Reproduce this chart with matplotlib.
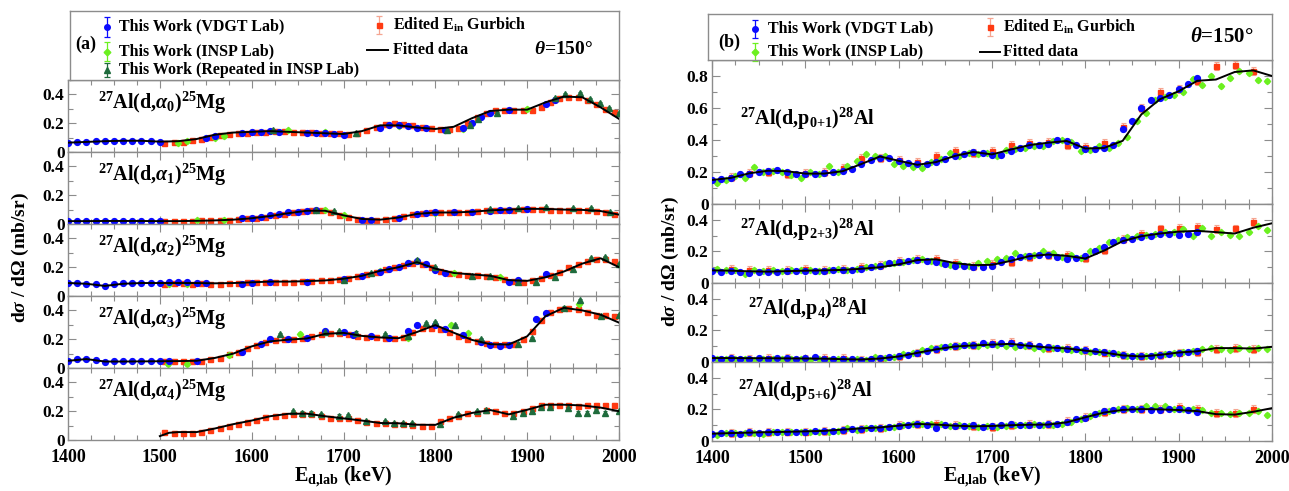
import matplotlib
matplotlib.use("Agg")
import matplotlib.pyplot as plt
from matplotlib.ticker import MultipleLocator, FuncFormatter

plt.rcParams['font.family'] = ['Liberation Serif', 'DejaVu Serif']
plt.rcParams['font.weight'] = 'bold'
plt.rcParams['mathtext.fontset'] = 'custom'
plt.rcParams['mathtext.rm'] = 'Liberation Serif:bold'
plt.rcParams['mathtext.it'] = 'Liberation Serif:italic:bold'
plt.rcParams['mathtext.bf'] = 'Liberation Serif:bold'

# ---------------- DATA ----------------
E_fit = list(range(1400, 2001, 20))
E_red_a = list(range(1505, 2000, 10))
E_blue_b = list(range(1400, 1921, 10))
E_green_b = list(range(1405, 2000, 10))
E_red_b = list(range(1420, 1991, 20))

# Panel (a) alpha0
a0_fit = [0.065, 0.07, 0.075, 0.078, 0.078, 0.072, 0.075, 0.09, 0.12, 0.135, 0.14, 0.145, 0.14, 0.135, 0.13,
          0.125, 0.145, 0.185, 0.185, 0.17, 0.16, 0.175, 0.235, 0.285, 0.294, 0.294, 0.345, 0.385, 0.38, 0.31, 0.23]
a0_blue_E = [1400, 1410, 1420, 1430, 1440, 1450, 1460, 1470, 1480, 1490, 1500, 1550, 1560, 1590, 1600, 1610, 1620,
             1630, 1660, 1670, 1680, 1690, 1700, 1740, 1750, 1760, 1770, 1780, 1790, 1810, 1830, 1840, 1850, 1860,
             1880, 1920, 1930]
a0_blue = [0.065, 0.068, 0.072, 0.075, 0.077, 0.078, 0.078, 0.077, 0.075, 0.073, 0.07, 0.1, 0.11, 0.135, 0.138,
           0.14, 0.145, 0.14, 0.135, 0.132, 0.13, 0.128, 0.12, 0.17, 0.185, 0.19, 0.18, 0.17, 0.165, 0.155, 0.17,
           0.2, 0.24, 0.27, 0.29, 0.33, 0.36]
a0_red = [0.062, 0.068, 0.072, 0.08, 0.09, 0.105, 0.12, 0.128, 0.133, 0.135, 0.14, 0.142, 0.145, 0.143, 0.14,
          0.138, 0.136, 0.134, 0.132, 0.13, 0.125, 0.13, 0.15, 0.175, 0.195, 0.2, 0.195, 0.185, 0.175, 0.17, 0.16,
          0.16, 0.165, 0.2, 0.24, 0.27, 0.29, 0.295, 0.295, 0.29, 0.29, 0.31, 0.35, 0.375, 0.385, 0.38, 0.36,
          0.33, 0.3, 0.28]
a0_green_E = [1520, 1530, 1560, 1570, 1640, 1680, 1750, 1760, 1830, 1900]
a0_green = [0.065, 0.075, 0.1, 0.11, 0.15, 0.14, 0.19, 0.18, 0.16, 0.3]
a0_tri_E = [1623, 1714, 1813, 1838, 1846, 1867, 1930, 1941, 1958, 1968, 1979, 1989, 2000]
a0_tri = [0.153, 0.13, 0.15, 0.19, 0.23, 0.27, 0.376, 0.4, 0.41, 0.365, 0.34, 0.306, 0.27]

# Panel (a) alpha1
a1_fit = [0.02, 0.02, 0.021, 0.021, 0.021, 0.02, 0.02, 0.022, 0.025, 0.03, 0.04, 0.055, 0.075, 0.092, 0.092,
          0.06, 0.035, 0.03, 0.045, 0.07, 0.08, 0.08, 0.085, 0.095, 0.1, 0.105, 0.105, 0.1, 0.098, 0.09, 0.065]
a1_blue_E = [1400, 1410, 1420, 1430, 1440, 1450, 1460, 1470, 1480, 1490, 1500, 1590, 1600, 1610, 1620, 1630,
             1640, 1650, 1660, 1670, 1720, 1730, 1760, 1780, 1790, 1800, 1820, 1840, 1860, 1870, 1880, 1900]
a1_blue = [0.02, 0.02, 0.02, 0.021, 0.022, 0.022, 0.023, 0.022, 0.022, 0.021, 0.02, 0.04, 0.045, 0.05, 0.06,
           0.07, 0.08, 0.085, 0.09, 0.095, 0.03, 0.03, 0.045, 0.07, 0.075, 0.08, 0.08, 0.085, 0.09, 0.1, 0.1, 0.105]
a1_red = [0.02, 0.02, 0.022, 0.022, 0.025, 0.025, 0.03, 0.03, 0.035, 0.04, 0.045, 0.05, 0.06, 0.07, 0.08, 0.09,
          0.095, 0.095, 0.085, 0.065, 0.05, 0.035, 0.03, 0.03, 0.035, 0.04, 0.055, 0.07, 0.075, 0.08, 0.08, 0.08,
          0.08, 0.085, 0.09, 0.095, 0.095, 0.1, 0.1, 0.105, 0.105, 0.105, 0.1, 0.1, 0.1, 0.095, 0.095, 0.09,
          0.08, 0.07]
a1_green_E = [1540, 1570, 1680, 1700, 1800, 1880]
a1_green = [0.025, 0.03, 0.1, 0.06, 0.075, 0.1]
a1_tri_E = [1670, 1690, 1860, 1890, 1920, 1950, 1970, 1990]
a1_tri = [0.1, 0.09, 0.105, 0.11, 0.115, 0.11, 0.11, 0.08]

# Panel (a) alpha2
a2_fit = [0.09, 0.085, 0.07, 0.085, 0.09, 0.09, 0.09, 0.09, 0.088, 0.09, 0.095, 0.1, 0.1, 0.103, 0.108, 0.12,
          0.14, 0.175, 0.2, 0.235, 0.19, 0.16, 0.15, 0.14, 0.11, 0.105, 0.13, 0.17, 0.225, 0.262, 0.2]
a2_blue_E = [1400, 1410, 1420, 1430, 1440, 1450, 1460, 1470, 1480, 1490, 1500, 1510, 1520, 1530, 1540, 1550,
             1590, 1600, 1620, 1660, 1700, 1720, 1740, 1750, 1760, 1770, 1780, 1790, 1800, 1810, 1880, 1890, 1920]
a2_blue = [0.09, 0.088, 0.085, 0.08, 0.07, 0.085, 0.09, 0.088, 0.09, 0.09, 0.092, 0.095, 0.1, 0.095, 0.093,
           0.09, 0.08, 0.09, 0.1, 0.1, 0.12, 0.14, 0.17, 0.19, 0.2, 0.23, 0.245, 0.22, 0.18, 0.16, 0.1, 0.11, 0.15]
a2_red = [0.085, 0.09, 0.09, 0.085, 0.09, 0.085, 0.08, 0.09, 0.09, 0.095, 0.1, 0.1, 0.1, 0.1, 0.1, 0.105, 0.105,
          0.11, 0.11, 0.115, 0.125, 0.14, 0.155, 0.17, 0.185, 0.2, 0.215, 0.23, 0.225, 0.2, 0.175, 0.16, 0.15,
          0.145, 0.145, 0.14, 0.13, 0.115, 0.105, 0.1, 0.11, 0.125, 0.145, 0.165, 0.2, 0.22, 0.245, 0.26, 0.26,
          0.24]
a2_green_E = [1510, 1530, 1660, 1740, 1770, 1820, 1870]
a2_green = [0.08, 0.085, 0.1, 0.175, 0.23, 0.16, 0.13]
a2_tri_E = [1700, 1730, 1780, 1800, 1840, 1860, 1890, 1910, 1930, 1950, 1970, 1985, 2000]
a2_tri = [0.11, 0.16, 0.25, 0.2, 0.14, 0.14, 0.095, 0.1, 0.13, 0.19, 0.265, 0.27, 0.22]

# Panel (a) alpha3
a3_fit = [0.05, 0.062, 0.045, 0.045, 0.046, 0.047, 0.048, 0.05, 0.07, 0.1, 0.15, 0.185, 0.197, 0.205, 0.237,
          0.244, 0.223, 0.212, 0.207, 0.25, 0.298, 0.245, 0.195, 0.165, 0.163, 0.22, 0.36, 0.418, 0.4, 0.37, 0.315]
a3_blue_E = [1400, 1410, 1420, 1430, 1440, 1450, 1460, 1470, 1480, 1490, 1500, 1510, 1540, 1590, 1610, 1620,
             1640, 1660, 1680, 1700, 1710, 1730, 1750, 1770, 1780, 1800, 1810, 1830, 1850, 1860, 1870, 1880,
             1910, 1920]
a3_blue = [0.05, 0.06, 0.062, 0.055, 0.045, 0.048, 0.05, 0.05, 0.048, 0.047, 0.048, 0.05, 0.05, 0.11, 0.17,
           0.2, 0.2, 0.21, 0.26, 0.25, 0.23, 0.22, 0.21, 0.26, 0.3, 0.3, 0.27, 0.23, 0.18, 0.16, 0.155, 0.16,
           0.34, 0.38]
a3_red = [0.05, 0.05, 0.05, 0.05, 0.052, 0.06, 0.07, 0.1, 0.11, 0.14, 0.16, 0.18, 0.195, 0.2, 0.2, 0.205, 0.22,
          0.235, 0.24, 0.24, 0.235, 0.22, 0.215, 0.215, 0.21, 0.205, 0.215, 0.25, 0.28, 0.28, 0.27, 0.25, 0.22,
          0.2, 0.185, 0.175, 0.165, 0.165, 0.17, 0.2, 0.26, 0.33, 0.39, 0.41, 0.42, 0.41, 0.39, 0.37, 0.37, 0.36]
a3_green_E = [1509, 1530, 1575, 1653, 1770, 1817, 1836, 1956]
a3_green = [0.028, 0.028, 0.09, 0.235, 0.21, 0.3, 0.24, 0.446]
a3_tri_E = [1631, 1680, 1695, 1714, 1745, 1770, 1790, 1800, 1821, 1850, 1890, 1905, 1940, 1958, 1980, 2000]
a3_tri = [0.234, 0.25, 0.257, 0.246, 0.234, 0.22, 0.31, 0.32, 0.296, 0.2, 0.17, 0.21, 0.42, 0.47, 0.36, 0.37]

# Panel (a) alpha4
a4_fit_E = [1500, 1510, 1520, 1540, 1560, 1580, 1600, 1620, 1640, 1660, 1680, 1700, 1720, 1740, 1760, 1780, 1800,
            1820, 1840, 1860, 1880, 1900, 1920, 1940, 1960, 1980, 2000]
a4_fit = [0.027, 0.05, 0.055, 0.055, 0.08, 0.11, 0.135, 0.165, 0.182, 0.183, 0.165, 0.15, 0.135, 0.118, 0.116,
          0.106, 0.105, 0.155, 0.188, 0.208, 0.178, 0.21, 0.245, 0.245, 0.24, 0.225, 0.2]
a4_red = [0.057, 0.05, 0.05, 0.05, 0.055, 0.07, 0.085, 0.1, 0.11, 0.125, 0.14, 0.16, 0.17, 0.175, 0.18, 0.18,
          0.18, 0.17, 0.155, 0.15, 0.15, 0.14, 0.125, 0.12, 0.115, 0.11, 0.11, 0.105, 0.1, 0.1, 0.13, 0.15, 0.17,
          0.185, 0.19, 0.205, 0.2, 0.19, 0.185, 0.2, 0.22, 0.24, 0.245, 0.245, 0.24, 0.235, 0.245, 0.245, 0.24,
          0.245]
a4_tri_E = [1645, 1655, 1665, 1675, 1695, 1705, 1725, 1745, 1755, 1765, 1775, 1805, 1825, 1845, 1855, 1885,
            1895, 1905, 1915, 1925, 1945, 1955, 1965, 1975, 1985, 2000]
a4_tri = [0.2, 0.19, 0.19, 0.18, 0.17, 0.175, 0.13, 0.13, 0.12, 0.12, 0.12, 0.11, 0.18, 0.2, 0.21, 0.17, 0.19,
          0.2, 0.23, 0.23, 0.22, 0.19, 0.19, 0.21, 0.19, 0.2]

# Panel (b) p0+1
b1_fit = [0.15, 0.163, 0.192, 0.208, 0.205, 0.19, 0.19, 0.205, 0.25, 0.297, 0.27, 0.245, 0.262, 0.3, 0.325, 0.31,
          0.34, 0.368, 0.383, 0.394, 0.347, 0.35, 0.395, 0.56, 0.655, 0.705, 0.77, 0.778, 0.825, 0.835, 0.8]
b1_blue = [0.15, 0.155, 0.165, 0.185, 0.19, 0.2, 0.205, 0.21, 0.2, 0.19, 0.19, 0.19, 0.195, 0.2, 0.205, 0.22,
           0.25, 0.275, 0.29, 0.285, 0.27, 0.255, 0.25, 0.25, 0.265, 0.28, 0.3, 0.315, 0.325, 0.32, 0.305, 0.305,
           0.33, 0.35, 0.37, 0.37, 0.375, 0.4, 0.395, 0.37, 0.345, 0.345, 0.35, 0.37, 0.47, 0.52, 0.6, 0.65,
           0.665, 0.68, 0.72, 0.75, 0.785]
b1_green = [0.13, 0.15, 0.175, 0.165, 0.23, 0.2, 0.205, 0.2, 0.18, 0.165, 0.2, 0.19, 0.235, 0.2, 0.24, 0.27,
            0.31, 0.3, 0.3, 0.25, 0.235, 0.23, 0.225, 0.26, 0.28, 0.32, 0.3, 0.32, 0.31, 0.32, 0.3, 0.34, 0.345,
            0.35, 0.36, 0.36, 0.395, 0.4, 0.385, 0.33, 0.34, 0.36, 0.35, 0.38, 0.42, 0.52, 0.57, 0.65, 0.67, 0.68,
            0.7, 0.78, 0.745, 0.8, 0.74, 0.79, 0.83, 0.82, 0.775, 0.77]
b1_red = [0.17, 0.195, 0.2, 0.19, 0.195, 0.2, 0.225, 0.29, 0.285, 0.275, 0.26, 0.3, 0.33, 0.32, 0.33, 0.37,
          0.38, 0.39, 0.37, 0.355, 0.38, 0.48, 0.6, 0.7, 0.72, 0.77, 0.86, 0.87, 0.83]

# Panel (b) p2+3
b2_fit = [0.08, 0.078, 0.074, 0.072, 0.075, 0.078, 0.08, 0.083, 0.09, 0.1, 0.118, 0.145, 0.15, 0.126, 0.113,
          0.115, 0.14, 0.17, 0.18, 0.172, 0.155, 0.205, 0.265, 0.296, 0.313, 0.325, 0.33, 0.322, 0.313, 0.35, 0.378]
b2_blue = [0.075, 0.072, 0.074, 0.07, 0.065, 0.068, 0.07, 0.072, 0.073, 0.075, 0.077, 0.076, 0.078, 0.08, 0.082,
           0.085, 0.09, 0.1, 0.11, 0.125, 0.13, 0.14, 0.145, 0.14, 0.13, 0.12, 0.11, 0.105, 0.1, 0.1, 0.11, 0.13,
           0.15, 0.165, 0.17, 0.175, 0.175, 0.165, 0.155, 0.16, 0.17, 0.2, 0.23, 0.26, 0.27, 0.28, 0.29, 0.3,
           0.31, 0.31, 0.305, 0.31, 0.32]
b2_green = [0.09, 0.085, 0.08, 0.06, 0.08, 0.075, 0.085, 0.075, 0.085, 0.08, 0.085, 0.075, 0.08, 0.09, 0.085,
            0.09, 0.1, 0.105, 0.12, 0.125, 0.135, 0.145, 0.15, 0.14, 0.125, 0.115, 0.12, 0.105, 0.125, 0.14, 0.15,
            0.16, 0.19, 0.17, 0.175, 0.2, 0.19, 0.165, 0.175, 0.16, 0.2, 0.22, 0.26, 0.275, 0.29, 0.3, 0.305,
            0.31, 0.32, 0.325, 0.34, 0.3, 0.35, 0.3, 0.32, 0.305, 0.3, 0.32, 0.36, 0.335]
b2_red = [0.09, 0.085, 0.08, 0.085, 0.09, 0.085, 0.09, 0.1, 0.115, 0.14, 0.155, 0.155, 0.125, 0.11, 0.12, 0.135,
          0.165, 0.18, 0.18, 0.16, 0.21, 0.28, 0.31, 0.345, 0.35, 0.355, 0.34, 0.345, 0.385]

# Panel (b) p4
b3_fit = [0.025, 0.025, 0.024, 0.024, 0.023, 0.022, 0.021, 0.018, 0.016, 0.022, 0.035, 0.058, 0.08, 0.098, 0.105,
          0.11, 0.115, 0.102, 0.092, 0.086, 0.072, 0.06, 0.042, 0.035, 0.045, 0.06, 0.068, 0.088, 0.088, 0.085,
          0.096]
b3_blue = [0.025, 0.022, 0.025, 0.022, 0.02, 0.025, 0.022, 0.025, 0.027, 0.022, 0.025, 0.03, 0.022, 0.02, 0.02,
           0.018, 0.015, 0.02, 0.025, 0.03, 0.035, 0.045, 0.055, 0.07, 0.08, 0.095, 0.1, 0.105, 0.105, 0.12,
           0.115, 0.12, 0.12, 0.11, 0.105, 0.1, 0.095, 0.09, 0.085, 0.08, 0.075, 0.07, 0.065, 0.055, 0.045, 0.04,
           0.035, 0.04, 0.045, 0.05, 0.055, 0.065, 0.07]
b3_green = [0.02, 0.02, 0.018, 0.02, 0.015, 0.02, 0.018, 0.02, 0.02, 0.018, 0.015, 0.018, 0.015, 0.02, 0.015,
            0.02, 0.015, 0.03, 0.025, 0.03, 0.05, 0.06, 0.075, 0.09, 0.095, 0.1, 0.1, 0.11, 0.1, 0.105, 0.11, 0.1,
            0.095, 0.1, 0.09, 0.085, 0.09, 0.085, 0.075, 0.07, 0.065, 0.065, 0.055, 0.05, 0.04, 0.035, 0.04,
            0.045, 0.05, 0.06, 0.065, 0.07, 0.08, 0.09, 0.085, 0.075, 0.09, 0.08, 0.09, 0.085]
b3_red = [0.028, 0.02, 0.025, 0.028, 0.02, 0.025, 0.025, 0.015, 0.02, 0.035, 0.06, 0.085, 0.1, 0.11, 0.12, 0.125,
          0.105, 0.09, 0.09, 0.075, 0.06, 0.045, 0.04, 0.045, 0.06, 0.065, 0.085, 0.09, 0.085]

# Panel (b) p5+6
b4_fit = [0.046, 0.05, 0.053, 0.056, 0.058, 0.061, 0.064, 0.072, 0.08, 0.086, 0.097, 0.108, 0.104, 0.097, 0.093,
          0.095, 0.1, 0.103, 0.104, 0.118, 0.15, 0.18, 0.197, 0.202, 0.2, 0.196, 0.189, 0.17, 0.167, 0.185, 0.208]
b4_blue = [0.045, 0.048, 0.05, 0.045, 0.055, 0.05, 0.055, 0.055, 0.058, 0.06, 0.06, 0.062, 0.065, 0.065, 0.07,
           0.075, 0.078, 0.08, 0.085, 0.09, 0.095, 0.1, 0.105, 0.1, 0.085, 0.1, 0.095, 0.095, 0.1, 0.09, 0.095,
           0.1, 0.105, 0.1, 0.1, 0.1, 0.105, 0.11, 0.12, 0.14, 0.145, 0.17, 0.19, 0.195, 0.2, 0.2, 0.2, 0.195,
           0.195, 0.2, 0.2, 0.195, 0.185]
b4_green = [0.04, 0.05, 0.048, 0.05, 0.05, 0.045, 0.055, 0.055, 0.06, 0.06, 0.055, 0.06, 0.06, 0.065, 0.08, 0.07,
            0.08, 0.08, 0.085, 0.09, 0.1, 0.11, 0.11, 0.11, 0.105, 0.095, 0.1, 0.095, 0.09, 0.095, 0.09, 0.095,
            0.1, 0.1, 0.105, 0.1, 0.1, 0.105, 0.12, 0.14, 0.16, 0.18, 0.19, 0.2, 0.21, 0.205, 0.22, 0.22, 0.22,
            0.205, 0.2, 0.2, 0.195, 0.18, 0.175, 0.17, 0.175, 0.18, 0.19, 0.165]
b4_red = [0.05, 0.055, 0.055, 0.06, 0.06, 0.065, 0.07, 0.075, 0.085, 0.1, 0.11, 0.11, 0.1, 0.095, 0.09, 0.1,
          0.105, 0.105, 0.125, 0.155, 0.185, 0.2, 0.2, 0.2, 0.215, 0.2, 0.175, 0.18, 0.2]

blue_err = 0.008
green_err = 0.012
tri_err = 0.008
red_err_a = 0.012
red_err_b = 0.025

labels_a = [r"$^{27}$Al(d,$\alpha_{0}$)$^{25}$Mg", r"$^{27}$Al(d,$\alpha_{1}$)$^{25}$Mg",
            r"$^{27}$Al(d,$\alpha_{2}$)$^{25}$Mg", r"$^{27}$Al(d,$\alpha_{3}$)$^{25}$Mg",
            r"$^{27}$Al(d,$\alpha_{4}$)$^{25}$Mg"]
labels_b = [r"$^{27}$Al(d,p$_{0{+}1}$)$^{28}$Al", r"$^{27}$Al(d,p$_{2{+}3}$)$^{28}$Al",
            r"$^{27}$Al(d,p$_{4}$)$^{28}$Al", r"$^{27}$Al(d,p$_{5{+}6}$)$^{28}$Al"]

# ---------------- STYLE ----------------
C_BLUE = '#0a0aff'
C_GREEN = '#6cf020'
C_TRI = '#1e6b3c'
C_RED = '#ff3a12'
C_RED_ERR = '#f5a591'
C_FRAME = '#8c8c8c'

W, H = 1289, 491
fig = plt.figure(figsize=(W / 100, H / 100), dpi=100)


def fx(px):
    return px / W


def fy(px):
    return 1 - px / H


def yfmt(v, pos):
    if abs(v) < 1e-9:
        return '0'
    return f'{v:.1f}'


def style_axes(ax, ymax, show_x):
    ax.set_xlim(1400, 2000)
    ax.set_ylim(0, ymax)
    ax.xaxis.set_major_locator(MultipleLocator(100))
    ax.xaxis.set_minor_locator(MultipleLocator(25))
    ax.yaxis.set_major_locator(MultipleLocator(0.2))
    ax.yaxis.set_minor_locator(MultipleLocator(0.1))
    ax.yaxis.set_major_formatter(FuncFormatter(yfmt))
    ax.tick_params(which='both', direction='in', top=True, right=True, color=C_FRAME, width=0.8)
    ax.tick_params(which='major', length=6)
    ax.tick_params(which='minor', length=3.5)
    ax.tick_params(axis='y', labelsize=12.5, pad=2.5)
    ax.tick_params(axis='x', labelsize=13, pad=6.5)
    for s in ax.spines.values():
        s.set_color(C_FRAME)
        s.set_linewidth(1.0)
    if not show_x:
        ax.tick_params(axis='x', labelbottom=False)
    for lab in ax.get_xticklabels() + ax.get_yticklabels():
        lab.set_fontweight('bold')


def plot_red(ax, E, y, err):
    ax.errorbar(E, y, yerr=err, fmt='s', ms=3.6, color=C_RED, ecolor=C_RED_ERR, elinewidth=0.8,
                capsize=1.8, capthick=0.8, zorder=3)


def plot_blue(ax, E, y):
    ax.errorbar(E, y, yerr=blue_err, fmt='o', ms=4.2, color=C_BLUE, ecolor=C_BLUE, elinewidth=0.7,
                capsize=1.2, capthick=0.7, zorder=4)


def plot_green(ax, E, y):
    ax.errorbar(E, y, yerr=green_err, fmt='D', ms=3.2, color=C_GREEN, ecolor=C_GREEN, elinewidth=0.8,
                capsize=1.4, capthick=0.8, zorder=4)


def plot_tri(ax, E, y):
    ax.errorbar(E, y, yerr=tri_err, fmt='^', ms=4.6, color=C_TRI, ecolor=C_TRI, elinewidth=0.7,
                capsize=1.2, capthick=0.7, zorder=4)


def plot_fit(ax, E, y):
    ax.plot(E, y, color='black', lw=1.4, zorder=6)


# ---------------- PANEL (a) ----------------
a_left, a_right = 68, 619
a_top, a_h = 80, 72
a_axes = []
for i in range(5):
    top = a_top + a_h * i
    ax = fig.add_axes([fx(a_left), fy(top + a_h), fx(a_right - a_left), a_h / H])
    style_axes(ax, 0.5, i == 4)
    a_axes.append(ax)

ax = a_axes[0]
plot_red(ax, E_red_a, a0_red, red_err_a)
plot_green(ax, a0_green_E, a0_green)
plot_blue(ax, a0_blue_E, a0_blue)
plot_tri(ax, a0_tri_E, a0_tri)
plot_fit(ax, E_fit, a0_fit)

ax = a_axes[1]
plot_red(ax, E_red_a, a1_red, red_err_a)
plot_green(ax, a1_green_E, a1_green)
plot_blue(ax, a1_blue_E, a1_blue)
plot_tri(ax, a1_tri_E, a1_tri)
plot_fit(ax, E_fit, a1_fit)

ax = a_axes[2]
plot_red(ax, E_red_a, a2_red, red_err_a)
plot_green(ax, a2_green_E, a2_green)
plot_blue(ax, a2_blue_E, a2_blue)
plot_tri(ax, a2_tri_E, a2_tri)
plot_fit(ax, E_fit, a2_fit)

ax = a_axes[3]
plot_red(ax, E_red_a, a3_red, red_err_a)
plot_green(ax, a3_green_E, a3_green)
plot_blue(ax, a3_blue_E, a3_blue)
plot_tri(ax, a3_tri_E, a3_tri)
plot_fit(ax, E_fit, a3_fit)

ax = a_axes[4]
plot_red(ax, E_red_a, a4_red, red_err_a)
plot_tri(ax, a4_tri_E, a4_tri)
plot_fit(ax, a4_fit_E, a4_fit)

for ax, lab in zip(a_axes, labels_a):
    ax.text(0.055, 0.6, lab, transform=ax.transAxes, fontsize=14.5, fontweight='bold', va='baseline',
            ha='left', zorder=8)

# ---------------- PANEL (b) ----------------
b_left, b_right = 712, 1272
b_tops = [60, 204, 283, 362]
b_hs = [144, 79, 79, 79]
b_ymax = [0.9, 0.5, 0.5, 0.5]
b_axes = []
for i in range(4):
    ax = fig.add_axes([fx(b_left), fy(b_tops[i] + b_hs[i]), fx(b_right - b_left), b_hs[i] / H])
    style_axes(ax, b_ymax[i], i == 3)
    b_axes.append(ax)

for ax, blue, green, red, fit in zip(b_axes, [b1_blue, b2_blue, b3_blue, b4_blue],
                                     [b1_green, b2_green, b3_green, b4_green],
                                     [b1_red, b2_red, b3_red, b4_red],
                                     [b1_fit, b2_fit, b3_fit, b4_fit]):
    plot_red(ax, E_red_b, red, red_err_b)
    plot_green(ax, E_green_b, green)
    plot_blue(ax, E_blue_b, blue)
    plot_fit(ax, E_fit, fit)

b_lab_pos = [(0.05, 0.55), (0.05, 0.6), (0.064, 0.6), (0.046, 0.56)]
for ax, lab, (px, py) in zip(b_axes, labels_b, b_lab_pos):
    ax.text(px, py, lab, transform=ax.transAxes, fontsize=14.5, fontweight='bold', va='baseline',
            ha='left', zorder=8)

# ---------------- LEGENDS ----------------
def legend_axes(x0, y0, x1, y1):
    lax = fig.add_axes([fx(x0), fy(y1), fx(x1 - x0), (y1 - y0) / H])
    lax.set_xlim(0, 1)
    lax.set_ylim(0, 1)
    lax.set_xticks([])
    lax.set_yticks([])
    for s in lax.spines.values():
        s.set_color(C_FRAME)
        s.set_linewidth(1.0)
    return lax


def leg_marker(lax, x, y, fmt, color, ecolor, ms, err):
    lax.errorbar([x], [y], yerr=err, fmt=fmt, ms=ms, color=color, ecolor=ecolor, elinewidth=0.9,
                 capsize=2.2, capthick=0.9, clip_on=False)


TS = 11.5
# legend (a)
la = legend_axes(70, 11, 619, 80)
la.text(0.009, 0.52, '(a)', fontsize=13, fontweight='bold', va='center', ha='left')
leg_marker(la, 0.067, 0.77, 'o', C_BLUE, C_BLUE, 4, 0.14)
la.text(0.09, 0.77, 'This Work (VDGT Lab)', fontsize=TS, fontweight='bold', va='center')
leg_marker(la, 0.067, 0.41, 'D', C_GREEN, C_GREEN, 3.4, 0.14)
la.text(0.09, 0.41, 'This Work (INSP Lab)', fontsize=TS, fontweight='bold', va='center')
leg_marker(la, 0.067, 0.14, '^', C_TRI, C_TRI, 4.4, 0.1)
la.text(0.09, 0.14, 'This Work (Repeated in INSP Lab)', fontsize=TS, fontweight='bold', va='center')
leg_marker(la, 0.563, 0.8, 's', C_RED, C_RED_ERR, 3.6, 0.13)
la.text(0.588, 0.8, r'Edited E$_{\mathrm{in}}$ Gurbich', fontsize=TS, fontweight='bold', va='center')
la.plot([0.541, 0.579], [0.435, 0.435], color='black', lw=1.4)
la.text(0.588, 0.435, 'Fitted data', fontsize=TS, fontweight='bold', va='center')
la.text(0.845, 0.435, r'$\theta$=150°', fontsize=14, fontweight='bold', va='center')

# legend (b)
lb = legend_axes(708, 14, 1272, 60)
lb.text(0.018, 0.38, '(b)', fontsize=13, fontweight='bold', va='center', ha='left')
leg_marker(lb, 0.083, 0.68, 'o', C_BLUE, C_BLUE, 4, 0.2)
lb.text(0.106, 0.68, 'This Work (VDGT Lab)', fontsize=TS, fontweight='bold', va='center')
leg_marker(lb, 0.083, 0.18, 'D', C_GREEN, C_GREEN, 3.4, 0.2)
lb.text(0.106, 0.18, 'This Work (INSP Lab)', fontsize=TS, fontweight='bold', va='center')
leg_marker(lb, 0.5, 0.72, 's', C_RED, C_RED_ERR, 3.6, 0.2)
lb.text(0.523, 0.72, r'Edited E$_{\mathrm{in}}$ Gurbich', fontsize=TS, fontweight='bold', va='center')
lb.plot([0.482, 0.518], [0.18, 0.18], color='black', lw=1.4)
lb.text(0.523, 0.18, 'Fitted data', fontsize=TS, fontweight='bold', va='center')
lb.text(0.855, 0.5, r'$\theta$=150°', fontsize=15, fontweight='bold', va='center')

# ---------------- AXIS LABELS ----------------
ylab = r'd$\sigma$ / d$\Omega$ (mb/sr)'
fig.text(fx(20), fy(258), ylab, rotation=90, fontsize=14, fontweight='bold', ha='center', va='center')
fig.text(fx(670), fy(262), ylab, rotation=90, fontsize=14, fontweight='bold', ha='center', va='center')
xlab = r'E$_{\mathrm{d{,}lab}}$ (keV)'
fig.text(fx(343), fy(482), xlab, fontsize=14.5, fontweight='bold', ha='center', va='baseline')
fig.text(fx(992), fy(482), xlab, fontsize=14.5, fontweight='bold', ha='center', va='baseline')

fig.savefig('out.png', dpi=100)
